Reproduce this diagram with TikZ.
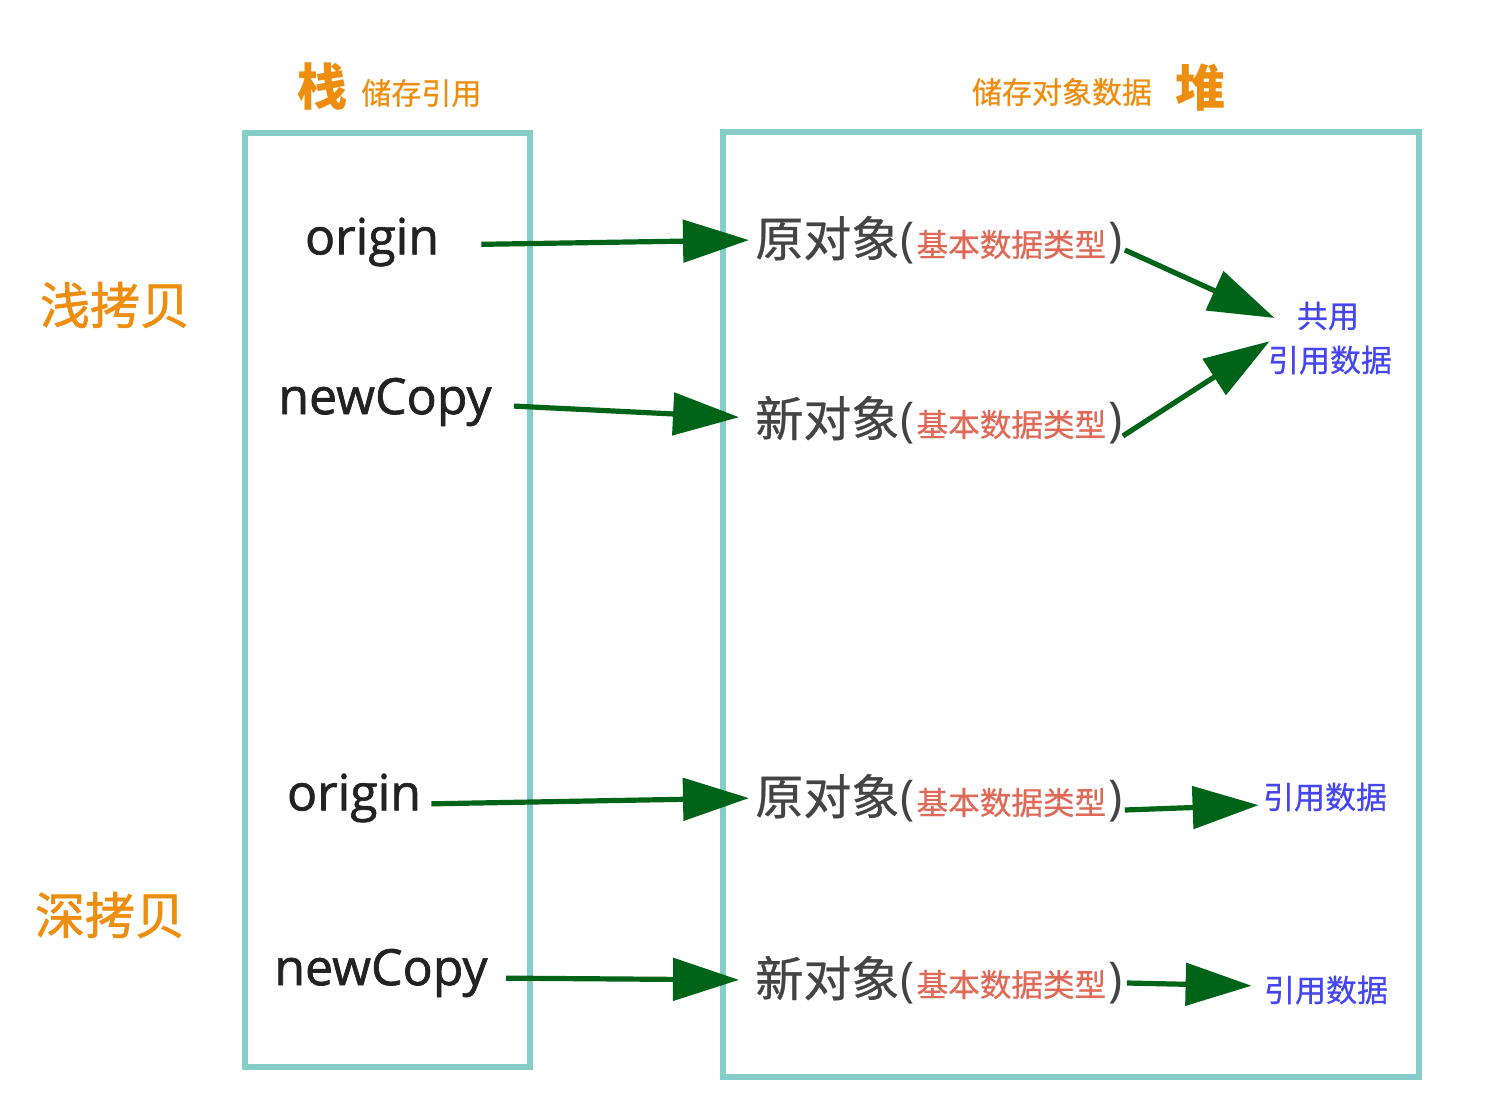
\documentclass[tikz,border=0pt]{standalone}
\usepackage{fontspec}
\setmainfont{Open Sans}
\newfontfamily\reffont{Open Sans}[FakeBold=1.3]
\newfontfamily\cjk{Noto Sans CJK SC}[FakeBold=0.6]
\newfontfamily\cjkb{Noto Sans CJK SC}[FakeBold=1.2]
\newfontfamily\cjkh{Noto Sans CJK SC}
\usetikzlibrary{arrows.meta}
\definecolor{boxc}{HTML}{86CCC8}
\definecolor{arrc}{HTML}{006418}
\definecolor{orng}{HTML}{EE8E10}
\definecolor{redc}{HTML}{E06A58}
\definecolor{bluec}{HTML}{4646F0}
\definecolor{dkc}{HTML}{444444}
\definecolor{blk}{HTML}{222222}
\newcommand{\objtxt}[1]{{\color{dkc}\cjk\fontsize{24}{26}\selectfont #1\kern0.5pt{\fontspec{Open Sans}\fontsize{24}{26}\selectfont(}\kern1pt\textcolor{redc}{\fontsize{15.8}{18}\selectfont 基本数据类型}\kern1pt{\fontspec{Open Sans}\fontsize{24}{26}\selectfont)}}}
\tikzset{
  panel/.style={draw=boxc,line width=2.6pt},
  ref/.style={font=\reffont\fontsize{25}{28}\selectfont,text=blk,inner sep=0pt},
  obj/.style={anchor=west,inner sep=0pt},
  lbl/.style={font=\cjk\fontsize{15.5}{18}\selectfont,text=bluec,inner sep=0pt},
  big/.style={font=\cjkb\fontsize{25}{28}\selectfont,text=orng,inner sep=0pt},
  sub/.style={font=\cjk\fontsize{15}{17}\selectfont,text=orng,inner sep=0pt},
  arr/.style={draw=arrc,line width=2.6pt,-{Triangle[length=33pt,width=21pt]}},
}
\begin{document}
\begin{tikzpicture}[x=0.5pt,y=-0.5pt]
\useasboundingbox (0,0) rectangle (1500,1114);
% panels
\draw[panel] (245,133) rectangle (530,1067);
\draw[panel] (723,132) rectangle (1419,1077);
% headers
\node[big,font=\cjkh\fontsize{25}{28}\selectfont\bfseries] (zhan) at (322,87) {栈};
\node[sub,anchor=west] (zhansub) at (361,93) {储存引用};
\node[sub] (duisub) at (1062,92) {储存对象数据};
\node[big,font=\cjkh\fontsize{25}{28}\selectfont\bfseries] (dui) at (1200,88) {堆};
% side labels
\node[big] (shallow) at (115,305) {浅拷贝};
\node[big] (deep) at (110,915) {深拷贝};
% stack refs
\node[ref] (o1) at (372,242) {origin};
\node[ref] (n1) at (385,402) {newCopy};
\node[ref] (o2) at (354,798) {origin};
\node[ref] (n2) at (381,973) {newCopy};
% heap objects
\node[obj] (h1) at (755,240) {\objtxt{原对象}};
\node[obj] (h2) at (755,420) {\objtxt{新对象}};
\node[obj] (h3) at (755,798) {\objtxt{原对象}};
\node[obj] (h4) at (755,980) {\objtxt{新对象}};
% shared data
\node[lbl] (share) at (1328,316) {共用};
\node[lbl] (sdata) at (1330,360) {引用数据};
\node[lbl] (d3) at (1325,797) {引用数据};
\node[lbl] (d4) at (1326,990) {引用数据};
\coordinate (s1) at ([xshift=-11pt,yshift=-1pt]share.west);
\coordinate (s2) at ([xshift=1pt,yshift=2pt]sdata.north west);
% arrows
\draw[arr,shorten <=21pt,shorten >=3pt] ([yshift=-1.5pt]o1.east) -- (h1.west);
\draw[arr,shorten <=11pt,shorten >=8pt] ([yshift=-1.5pt]n1.east) -- ([yshift=1pt]h2.west);
\draw[arr,shorten <=5pt,shorten >=3pt] ([yshift=-3pt]o2.east) -- (h3.west);
\draw[arr,shorten <=9pt,shorten >=8pt] ([yshift=-2.5pt]n2.east) -- (h4.west);
\draw[arr] ([xshift=1pt,yshift=-5pt]h1.east) -- (s1);
\draw[arr] ([yshift=-8pt]h2.east) -- (s2);
\draw[arr,shorten >=2pt] ([xshift=1pt,yshift=-6pt]h3.east) -- ([yshift=-4pt]d3.west);
\draw[arr,shorten >=6pt] ([xshift=2pt,yshift=-1.5pt]h4.east) -- ([yshift=2pt]d4.west);
\end{tikzpicture}
\end{document}
